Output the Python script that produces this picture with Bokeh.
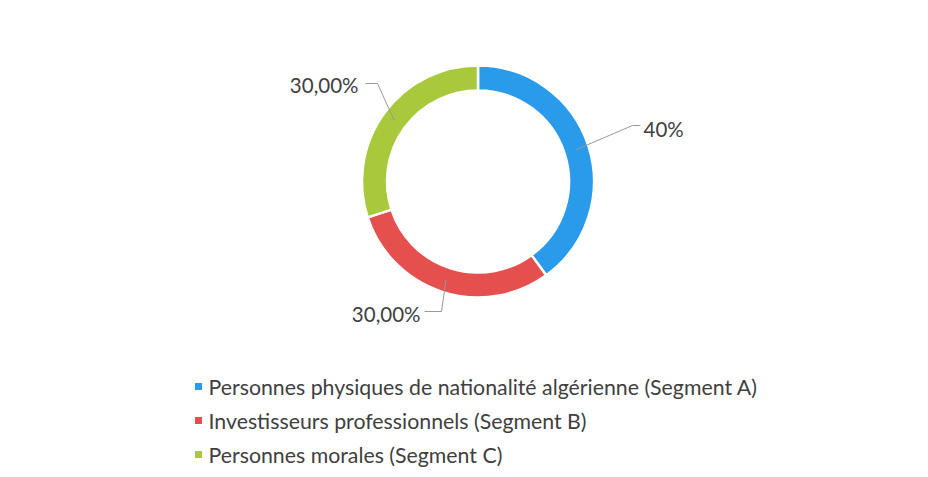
import math
from bokeh.plotting import figure
from bokeh.models import Range1d, ColumnDataSource
from bokeh.core.properties import value
from bokeh.embed import file_html
from bokeh.resources import INLINE

# ---- data ----
categories = [
    "Personnes physiques de nationalité algérienne (Segment A)",
    "Investisseurs professionnels (Segment B)",
    "Personnes morales (Segment C)",
]
shares = [40, 30, 30]
share_labels = ["40%", "30,00%", "30,00%"]
colors = ["#2A9BEA", "#E5504E", "#A8C93C"]

# ---- layout ----
W, H = 928, 477
def Y(py):  # screenshot pixel y -> data y
    return H - py

cx, cy = 477.5, Y(181)
r_out, r_in = 116, 91
font = "Lato"
text_col = "#404040"

p = figure(width=W, height=H, output_backend="svg", toolbar_location=None,
           x_range=Range1d(0, W), y_range=Range1d(0, H),
           min_border=0)
p.axis.visible = False
p.grid.visible = False
p.outline_line_color = None
p.background_fill_color = "white"
p.border_fill_color = "white"

# wedges clockwise from top
total = sum(shares)
starts, ends, mids = [], [], []
a = math.pi / 2
for s in shares:
    e = a - 2 * math.pi * s / total
    starts.append(e)
    ends.append(a)
    mids.append((a + e) / 2)
    a = e

src = ColumnDataSource(dict(start=starts, end=ends, color=colors))
p.annular_wedge(x=cx, y=cy, inner_radius=r_in, outer_radius=r_out,
                start_angle="start", end_angle="end", fill_color="color",
                line_color="white", line_width=2.5, source=src)

# leader lines & labels (elbow offsets are layout)
elbows = [(632, 125, 640, "left", 643, 128),
          (441, 311, 424, "right", 420, 313),
          (377, 83, 365, "right", 358, 84)]
r_mid = (r_in + r_out) / 2
for m, lab, (ex, ey, hx, align, tx, ty) in zip(mids, share_labels, elbows):
    sx = cx + r_mid * math.cos(m)
    sy = cy + r_mid * math.sin(m)
    p.line([sx, ex, hx], [sy, Y(ey), Y(ey)], line_color="#9a9a9a", line_width=1)
    p.text(x=[tx], y=[Y(ty)], text=[lab], text_font=value(font),
           text_font_size="20.5px", text_color=text_col, text_align=align,
           text_baseline="middle")

# legend
leg_y = [386, 420, 454]
p.scatter(x=[198] * 3, y=[Y(v) for v in leg_y], marker="square", size=7,
          fill_color=colors, line_color=None)
p.text(x=[208] * 3, y=[Y(v) for v in leg_y], text=categories,
       text_font=value(font), text_font_size="21.3px", text_color=text_col,
       text_align="left", text_baseline="middle")

open("out.html", "w").write(file_html(p, INLINE))
